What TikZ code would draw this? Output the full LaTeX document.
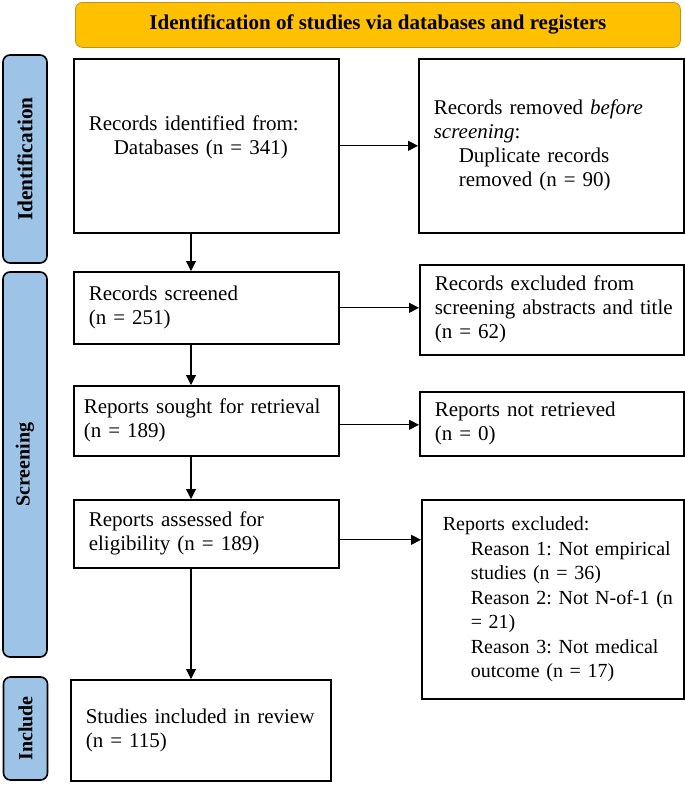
\documentclass[tikz,border=0pt]{standalone}
\usepackage{fontspec}
\setmainfont{Liberation Serif}
\usetikzlibrary{arrows.meta}
\newlength\pxu \setlength\pxu{0.75pt}
\newcommand{\ind}{\hspace*{25\pxu}}
\newcommand{\indr}{\hspace*{28\pxu}}
\newcommand{\tline}[1]{\mbox{#1}}
\definecolor{titleorange}{HTML}{FFC000}
\definecolor{titleedge}{HTML}{B8961A}
\definecolor{barblue}{HTML}{9DC3E6}
\begin{document}
\frenchspacing
\begin{tikzpicture}[x=0.75pt,y=-0.75pt,
  every node/.style={font=\fontsize{15.75pt}{18pt}\selectfont\frenchspacing},
  box/.style={draw, line width=1.2pt, inner xsep=15\pxu, inner ysep=0pt, align=left, anchor=north west},
  bar/.style={draw, line width=1.2pt, fill=barblue, rounded corners=7\pxu, rotate=90,
    minimum height=44\pxu, inner sep=0pt, font=\fontsize{15pt}{18pt}\selectfont\bfseries},
  titlebox/.style={draw=titleedge, line width=0.6pt, fill=titleorange, rounded corners=7\pxu,
    anchor=north west, minimum width=605\pxu, minimum height=45\pxu, inner sep=0pt,
    font=\fontsize{15.75pt}{18pt}\selectfont\bfseries},
  arr/.style={line width=0.8pt, -{Triangle[length=7.5pt,width=7.5pt]}}]
\useasboundingbox (0,0) rectangle (685,785);

\node[titlebox] (title) at (75,2) {Identification of studies via databases and registers};

\node[bar, minimum width=208\pxu, font=\fontsize{16pt}{18pt}\selectfont\bfseries] (sid) at (25,159) {Identification};
\node[bar, minimum width=385\pxu] (sscr) at (25,464.5) {Screening};
\node[bar, minimum width=103\pxu] (sinc) at (25.5,728.5) {Include};

\node[box, text width=235\pxu, minimum height=174\pxu] (b1) at (73,58)
  {\tline{Records identified from:}\\\tline{\ind Databases (n = 341)}\\[-2\pxu]\mbox{}};
\node[box, text width=235\pxu, minimum height=174\pxu] (r1) at (418,58)
  {\tline{Records removed \textit{before}}\\\tline{\textit{screening}:}\\\tline{\ind Duplicate records}\\\tline{\ind removed (n = 90)}};

\node[box, text width=235\pxu, minimum height=72\pxu] (b2) at (73,271)
  {\tline{Records screened}\\\tline{(n = 251)}};
\node[box, text width=234\pxu, minimum height=90\pxu] (r2) at (419,264)
  {\tline{Records excluded from}\\\tline{screening abstracts and title}\\\tline{(n = 62)}};

\node[box, inner xsep=10\pxu, text width=245\pxu, minimum height=70\pxu] (b3) at (73,385)
  {\tline{Reports sought for retrieval}\\\tline{(n = 189)}};
\node[box, text width=234\pxu, minimum height=64\pxu] (r3) at (419,391)
  {\tline{Reports not retrieved}\\\tline{(n = 0)}};

\node[box, text width=235\pxu, minimum height=68\pxu] (b4) at (73,499)
  {\tline{Reports assessed for}\\\tline{eligibility (n = 189)}};
\node[box, inner xsep=21\pxu, text width=220\pxu, minimum height=199\pxu,
  font=\fontsize{15pt}{18.4pt}\selectfont\frenchspacing] (r4) at (421,499)
  {\tline{Reports excluded:}\\\tline{\indr Reason 1: Not empirical}\\\tline{\indr studies (n = 36)}\\\tline{\indr Reason 2: Not N-of-1 (n}\\\tline{\indr = 21)}\\\tline{\indr Reason 3: Not medical}\\\tline{\indr outcome (n = 17)}};

\node[box, text width=230\pxu, minimum height=101\pxu] (b5) at (70,679)
  {\tline{Studies included in review}\\\tline{(n = 115)}};

% vertical flow
\coordinate (c1) at ([xshift=88.5pt]b1.south west);
\draw[arr] (c1) -- (c1 |- b2.north);
\coordinate (c2) at ([xshift=88.5pt]b2.south west);
\draw[arr] (c2) -- (c2 |- b3.north);
\coordinate (c3) at ([xshift=88.5pt]b3.south west);
\draw[arr] (c3) -- (c3 |- b4.north);
\coordinate (c4) at ([xshift=88.5pt]b4.south west);
\draw[arr] (c4) -- (c4 |- b5.north);

% horizontal exclusions
\draw[arr] (b1.east) -- (b1.east -| r1.west);
\draw[arr] (b2.east) -- (b2.east -| r2.west);
\draw[arr] ([yshift=-3pt]b3.east) -- ([yshift=-3pt]b3.east -| r3.west);
\draw[arr] ([yshift=-4.5pt]b4.east) -- ([yshift=-4.5pt]b4.east -| r4.west);
\end{tikzpicture}
\end{document}
